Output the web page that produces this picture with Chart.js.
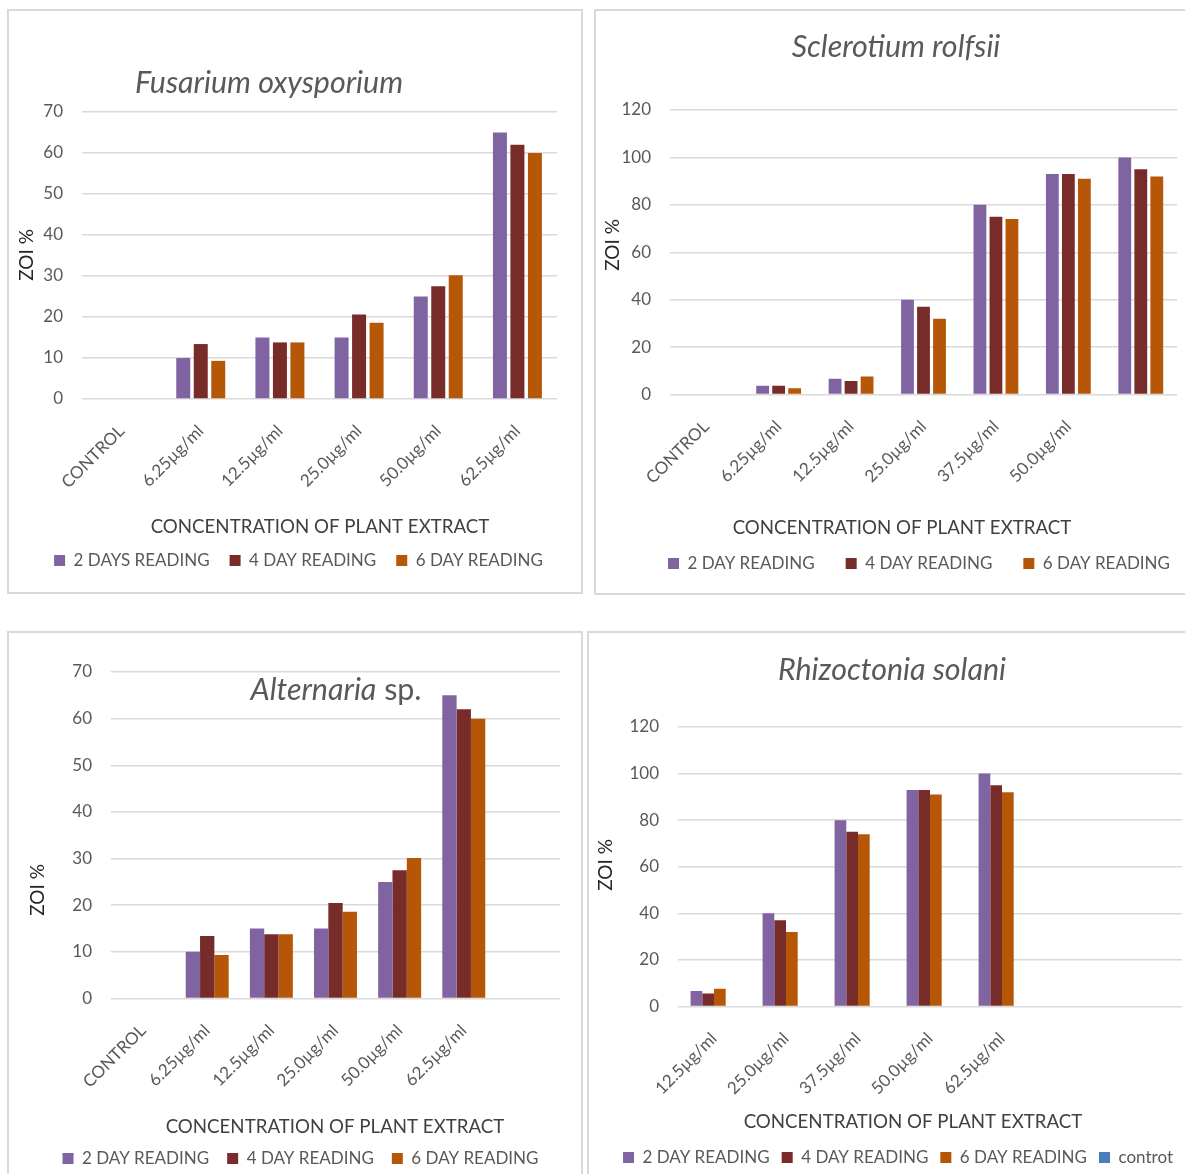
<!DOCTYPE html>
<html>
<head>
<meta charset="utf-8">
<script src="https://cdn.jsdelivr.net/npm/chart.js@4.4.1/dist/chart.umd.min.js"></script>
<style>
  html, body { margin: 0; padding: 0; background: #ffffff; overflow: hidden; }
  body { width: 1185px; height: 1174px; position: relative; }
  .frame { position: absolute; border: 2px solid #d9d9d9; box-sizing: border-box; }
  canvas { position: absolute; }
</style>
</head>
<body>
<div class="frame" style="left:7px;top:9px;width:576px;height:585px"></div>
<div class="frame" style="left:594px;top:9px;width:680px;height:586px"></div>
<div class="frame" style="left:7px;top:631px;width:576px;height:600px"></div>
<div class="frame" style="left:587px;top:631px;width:680px;height:600px"></div>
<canvas id="fusarium"></canvas>
<canvas id="sclerotium"></canvas>
<canvas id="alternaria"></canvas>
<canvas id="rhizoctonia"></canvas>
<script>
// Zone of inhibition (%) after 2, 4 and 6 days for each fungus
const fusariumLabels = ['CONTROL', '6.25µg/ml', '12.5µg/ml', '25.0µg/ml', '50.0µg/ml', '62.5µg/ml'];
const fusariumDay2 = [0, 10, 15, 15, 25, 65];
const fusariumDay4 = [0, 13.4, 13.8, 20.6, 27.5, 62];
const fusariumDay6 = [0, 9.3, 13.8, 18.6, 30.2, 60];

const sclerotiumLabels = ['CONTROL', '6.25µg/ml', '12.5µg/ml', '25.0µg/ml', '37.5µg/ml', '50.0µg/ml', ''];
const sclerotiumDay2 = [0, 3.7, 6.6, 40, 80, 93, 100];
const sclerotiumDay4 = [0, 3.7, 5.7, 37, 75, 93, 95];
const sclerotiumDay6 = [0, 2.6, 7.6, 32, 74, 91, 92];

const alternariaLabels = ['CONTROL', '6.25µg/ml', '12.5µg/ml', '25.0µg/ml', '50.0µg/ml', '62.5µg/ml', ''];
const alternariaDay2 = [0, 10, 15, 15, 25, 65, null];
const alternariaDay4 = [0, 13.4, 13.8, 20.5, 27.5, 62, null];
const alternariaDay6 = [0, 9.3, 13.8, 18.6, 30.1, 60, null];

const rhizoctoniaLabels = ['12.5µg/ml', '25.0µg/ml', '37.5µg/ml', '50.0µg/ml', '62.5µg/ml', '', ''];
const rhizoctoniaDay2 = [6.7, 40, 80, 93, 100, null, null];
const rhizoctoniaDay4 = [5.6, 37, 75, 93, 95, null, null];
const rhizoctoniaDay6 = [7.6, 32, 74, 91, 92, null, null];
const rhizoctoniaControl = [null, null, null, null, null, null, null];

const PURPLE = '#8064a2', MAROON = '#772c2a', ORANGE = '#b65708', BLUE = '#4a7ebb';
const FONT = 'Lato';
const TICK_GREY = '#595959';

// free text: chart titles and axis titles, placed in page coordinates
const captions = {
  id: 'captions',
  afterDraw(chart, args, opts) {
    const ctx = chart.ctx;
    (opts.items || []).forEach(item => {
      ctx.save();
      ctx.translate(item.x - opts.originX, item.y - opts.originY);
      if (item.rotation) ctx.rotate(item.rotation);
      ctx.fillStyle = item.color;
      ctx.textBaseline = 'middle';
      ctx.textAlign = 'left';
      let total = 0;
      item.runs.forEach(r => { ctx.font = r.font; r.w = ctx.measureText(r.text).width; total += r.w; });
      let x = -total / 2;
      item.runs.forEach(r => { ctx.font = r.font; ctx.fillText(r.text, x, 0); x += r.w; });
      ctx.restore();
    });
  }
};

function makePanel(p) {
  const cl = p.canvasLeft, ct = p.canvasTop;
  const itemH = Math.max(p.legendFont, p.box);
  // the legend spans the whole canvas width, so the canvas is centred on it
  const W = Math.round(2 * (p.legendCenter - cl));
  const yWidth = p.area.left - cl;
  const rightGap = W - (p.area.right - cl);
  const padTop = p.area.top - ct;
  const legendTop = (p.legendY - ct) - p.legendPad - itemH / 2;
  const xHeight = legendTop - (p.area.bottom - ct);
  const H = Math.ceil(legendTop + itemH + p.legendPad + 10);

  const canvas = document.getElementById(p.id);
  canvas.width = W; canvas.height = H;
  canvas.style.left = cl + 'px'; canvas.style.top = ct + 'px';
  canvas.style.width = W + 'px'; canvas.style.height = H + 'px';

  const titleFont = p.titleSize + 'px ' + FONT;
  const items = [
    { x: p.titleX, y: p.titleY, color: '#595959', runs: p.titleRuns.map(r => ({ text: r.text, font: (r.italic ? 'italic ' : '') + titleFont })) },
    { x: p.xTitleX, y: p.xTitleY, color: '#404040', runs: [{ text: 'CONCENTRATION OF PLANT EXTRACT', font: '18.7px ' + FONT }] },
    { x: p.yTitleX, y: p.yTitleY, color: '#262626', rotation: -Math.PI / 2, runs: [{ text: 'ZOI %', font: '19px ' + FONT }] }
  ];

  return new Chart(canvas, {
    type: 'bar',
    data: { labels: p.labels, datasets: p.datasets },
    options: {
      responsive: false,
      animation: false,
      events: [],
      layout: { padding: { left: 0, right: 0, top: padTop, bottom: 0 } },
      datasets: { bar: { categoryPercentage: p.catPct, barPercentage: p.barPct, borderWidth: 0 } },
      scales: {
        x: {
          offset: true,
          grid: { display: false, drawTicks: false },
          border: { display: false },
          ticks: { autoSkip: false, minRotation: 45, maxRotation: 45, padding: 22, labelOffset: 0,
                   color: TICK_GREY, font: { family: FONT, size: 17 } },
          afterFit: s => { s.height = xHeight; }
        },
        y: {
          min: 0, max: p.yMax,
          grid: { color: '#d9d9d9', lineWidth: 1.5, drawTicks: false },
          border: { display: false },
          ticks: { stepSize: p.yStep, padding: 19, color: TICK_GREY, font: { family: FONT, size: 17 } },
          afterFit: s => { s.width = yWidth; }
        },
        // empty margin on the right of the plot area
        yGap: {
          type: 'linear', axis: 'y', position: 'right', display: true,
          grid: { display: false, drawTicks: false },
          border: { display: false },
          ticks: { display: false },
          afterFit: s => { s.width = rightGap; }
        }
      },
      plugins: {
        title: { display: false },
        tooltip: { enabled: false },
        legend: {
          position: 'bottom',
          labels: { boxWidth: p.box, boxHeight: p.box, padding: p.legendPad, color: TICK_GREY,
                    font: { family: FONT, size: p.legendFont } }
        },
        captions: { originX: cl, originY: ct, items }
      }
    },
    plugins: [captions]
  });
}

function series(label, data, color) {
  return { label, data, backgroundColor: color };
}

function draw() {
  makePanel({
    id: 'fusarium', canvasLeft: 9, canvasTop: 11,
    area: { left: 82, right: 557, top: 112, bottom: 398.5 },
    yMax: 70, yStep: 10, catPct: 0.663, barPct: 0.8,
    labels: fusariumLabels,
    datasets: [series('2 DAYS READING', fusariumDay2, PURPLE), series('4 DAY READING', fusariumDay4, MAROON), series('6 DAY READING', fusariumDay6, ORANGE)],
    legendCenter: 298.5, legendY: 560, legendPad: 20, legendFont: 17, box: 11,
    titleRuns: [{ text: 'Fusarium oxysporium', italic: true }], titleSize: 30.4, titleX: 269, titleY: 83,
    xTitleX: 320, xTitleY: 527, yTitleX: 27, yTitleY: 255
  });
  makePanel({
    id: 'sclerotium', canvasLeft: 596, canvasTop: 11,
    area: { left: 670, right: 1177, top: 110, bottom: 394 },
    yMax: 120, yStep: 20, catPct: 0.663, barPct: 0.8,
    labels: sclerotiumLabels,
    datasets: [series('2 DAY READING', sclerotiumDay2, PURPLE), series('4 DAY READING', sclerotiumDay4, MAROON), series('6 DAY READING', sclerotiumDay6, ORANGE)],
    legendCenter: 919, legendY: 563, legendPad: 31, legendFont: 17, box: 11,
    titleRuns: [{ text: 'Sclerotium rolfsii', italic: true }], titleSize: 30.4, titleX: 896, titleY: 47,
    xTitleX: 902, xTitleY: 528, yTitleX: 613, yTitleY: 245
  });
  makePanel({
    id: 'alternaria', canvasLeft: 9, canvasTop: 633,
    area: { left: 111, right: 560, top: 672, bottom: 998 },
    yMax: 70, yStep: 10, catPct: 0.67, barPct: 1.0,
    labels: alternariaLabels,
    datasets: [series('2 DAY READING', alternariaDay2, PURPLE), series('4 DAY READING', alternariaDay4, MAROON), series('6 DAY READING', alternariaDay6, ORANGE)],
    legendCenter: 300.5, legendY: 1158, legendPad: 18, legendFont: 17, box: 11,
    titleRuns: [{ text: 'Alternaria', italic: true }, { text: ' sp.', italic: false }], titleSize: 30.4, titleX: 336, titleY: 690,
    xTitleX: 335, xTitleY: 1127, yTitleX: 38, yTitleY: 890
  });
  makePanel({
    id: 'rhizoctonia', canvasLeft: 589, canvasTop: 633,
    area: { left: 678, right: 1182, top: 727, bottom: 1006 },
    yMax: 120, yStep: 20, catPct: 0.65, barPct: 1.0,
    labels: rhizoctoniaLabels,
    datasets: [series('2 DAY READING', rhizoctoniaDay2, PURPLE), series('4 DAY READING', rhizoctoniaDay4, MAROON), series('6 DAY READING', rhizoctoniaDay6, ORANGE), series('controt', rhizoctoniaControl, BLUE)],
    legendCenter: 898, legendY: 1157, legendPad: 12, legendFont: 17, box: 11,
    titleRuns: [{ text: 'Rhizoctonia solani', italic: true }], titleSize: 30.4, titleX: 892, titleY: 670,
    xTitleX: 913, xTitleY: 1122, yTitleX: 606, yTitleY: 865
  });
}

if (document.fonts && document.fonts.load) {
  Promise.all([document.fonts.load('17px Lato'), document.fonts.load('italic 30px Lato')]).then(draw, draw);
} else { draw(); }
</script>
</body>
</html>
